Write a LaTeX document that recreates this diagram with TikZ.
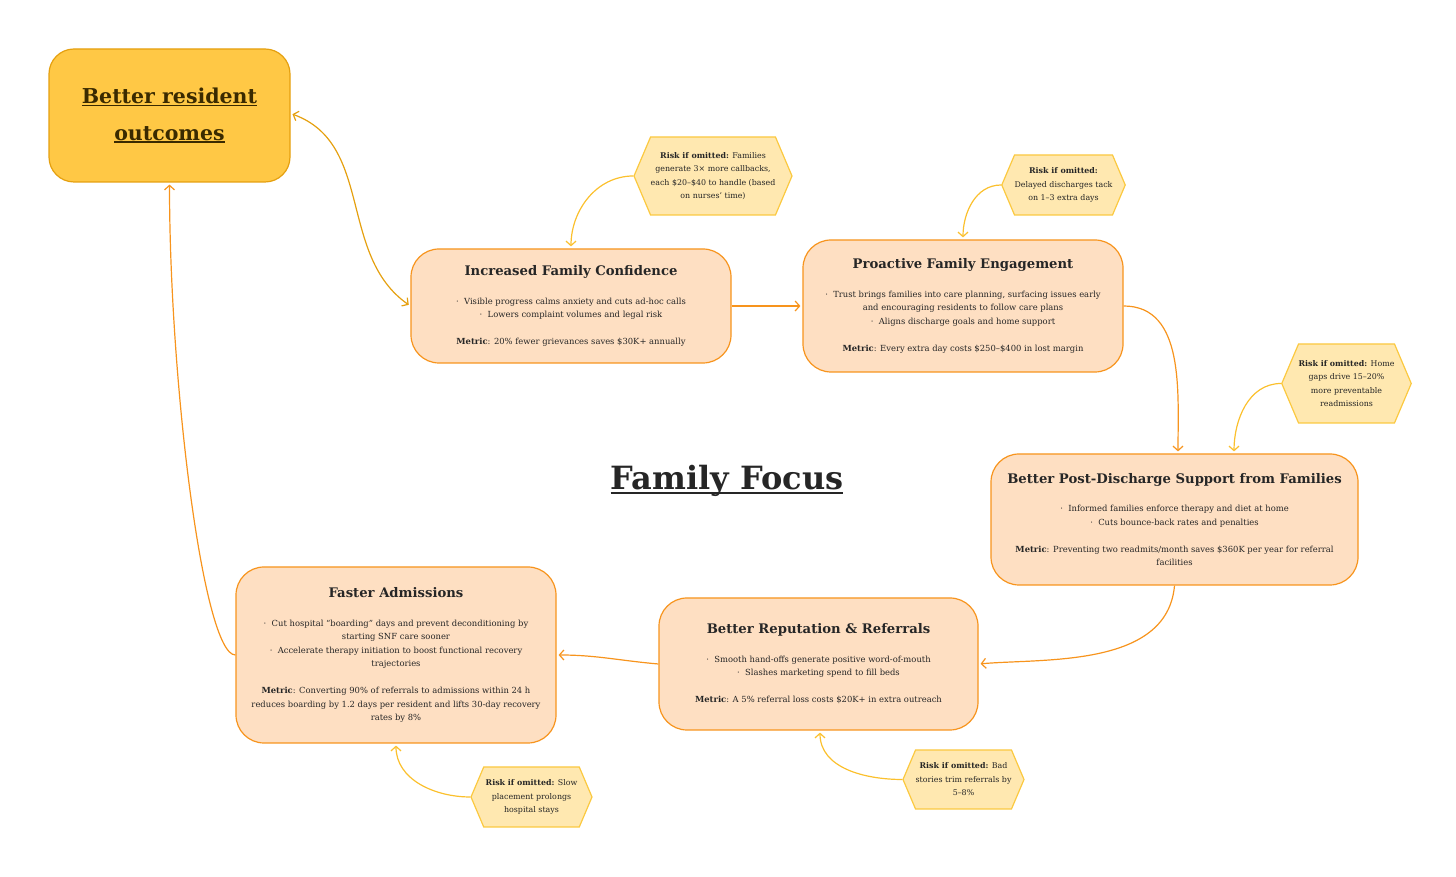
\documentclass[tikz,border=0pt]{standalone}
\usepackage{fontspec}
\setmainfont{DejaVu Serif}
\usetikzlibrary{arrows.meta, shapes.symbols}
\definecolor{FFpeach}{HTML}{FEDFC2}
\definecolor{FForange}{HTML}{F7941D}
\definecolor{FFgold}{HTML}{FFC845}
\definecolor{FFgolddark}{HTML}{E5A00F}
\definecolor{FFhex}{HTML}{FFE8B0}
\definecolor{FFhexline}{HTML}{FBC940}
\definecolor{FFrisk}{HTML}{FBC02D}
\definecolor{FFtext}{HTML}{262626}
\definecolor{FFbrown}{HTML}{3A2A00}
\newcommand{\ultext}[1]{\leavevmode\setbox0\hbox{#1}\rlap{\rule[-0.13em]{\wd0}{0.07em}}\box0}
\newcommand{\stagetitle}[1]{{\fontsize{13.2}{15}\selectfont\bfseries #1}}

\begin{document}
\begin{tikzpicture}[x=1pt, y=1pt,
   stage/.style={draw=FForange, fill=FFpeach, line width=1.2pt, rounded corners=28pt,
      align=center, text=FFtext, inner sep=0pt, font=\fontsize{8.4}{13.5}\selectfont},
   riskhex/.style={shape=signal, signal to=east and west, signal pointer angle=134,
      draw=FFhexline, fill=FFhex, line width=1.2pt, align=center, text=FFtext,
      inner sep=0pt, font=\fontsize{7.9}{13.5}\selectfont},
   flow/.style={draw=FForange, line width=1.2pt, -{Straight Barb[length=4.5pt,width=10pt]}, shorten >=2pt},
   risk/.style={draw=FFrisk, line width=1.2pt, -{Straight Barb[length=4.5pt,width=10pt]}, shorten >=2pt}]
   \useasboundingbox (0,0) rectangle (1456,877);
   % Goal box
   \node[draw=FFgolddark, fill=FFgold, line width=1.2pt, rounded corners=25pt,
      minimum width=241pt, minimum height=133pt, align=center, text=FFbrown,
      font=\fontsize{20.5}{36.5}\selectfont\bfseries] (out) at (169.5,761.5)
      {\ultext{Better resident}\\\ultext{outcomes}};
   % Title
   \node[text=FFtext, font=\fontsize{32}{38}\selectfont\bfseries] (title) at (727,396)
      {\ultext{Family Focus}};
   % Stages
   \node[stage, minimum width=320pt, minimum height=114pt] (conf) at (571,571)
      {\stagetitle{Increased Family Confidence}\\[15pt]
       ·\ \ Visible progress calms anxiety and cuts ad-hoc calls\\
       ·\ \ Lowers complaint volumes and legal risk\\[13.5pt]
       \textbf{Metric}: 20\% fewer grievances saves \$30K+ annually};
   \node[stage, minimum width=320pt, minimum height=132pt] (eng) at (963,571)
      {\stagetitle{Proactive Family Engagement}\\[15pt]
       ·\ \ Trust brings families into care planning, surfacing issues early\\
       and encouraging residents to follow care plans\\
       ·\ \ Aligns discharge goals and home support\\[13.5pt]
       \textbf{Metric}: Every extra day costs \$250–\$400 in lost margin};
   \node[stage, minimum width=367pt, minimum height=131pt] (post) at (1174.5,357.5)
      {\stagetitle{Better Post-Discharge Support from Families}\\[15pt]
       ·\ \ Informed families enforce therapy and diet at home\\
       ·\ \ Cuts bounce-back rates and penalties\\[13.5pt]
       \textbf{Metric}: Preventing two readmits/month saves \$360K per year for referral\\
       facilities};
   \node[stage, minimum width=319pt, minimum height=132pt] (rep) at (818.5,213)
      {\stagetitle{Better Reputation \& Referrals}\\[15pt]
       ·\ \ Smooth hand-offs generate positive word-of-mouth\\
       ·\ \ Slashes marketing spend to fill beds\\[13.5pt]
       \textbf{Metric}: A 5\% referral loss costs \$20K+ in extra outreach};
   \node[stage, minimum width=320pt, minimum height=176pt] (adm) at (396,222)
      {\stagetitle{Faster Admissions}\\[15pt]
       ·\ \ Cut hospital “boarding” days and prevent deconditioning by\\
       starting SNF care sooner\\
       ·\ \ Accelerate therapy initiation to boost functional recovery\\
       trajectories\\[13.5pt]
       \textbf{Metric}: Converting 90\% of referrals to admissions within 24 h\\
       reduces boarding by 1.2 days per resident and lifts 30-day recovery\\
       rates by 8\%};
   % Risk hexagons
   \node[riskhex, minimum width=158pt, minimum height=78pt] (riskconf) at (713,701)
      {\textbf{Risk if omitted:} Families\\generate 3× more callbacks,\\
       each \$20–\$40 to handle (based\\on nurses’ time)};
   \node[riskhex, minimum width=121pt, minimum height=60pt] (riskeng) at (1063.5,692)
      {\textbf{Risk if omitted:}\\Delayed discharges tack\\on 1–3 extra days};
   \node[riskhex, minimum width=121pt, minimum height=79pt] (riskpost) at (1346.5,493.5)
      {\textbf{Risk if omitted:} Home\\gaps drive 15–20\%\\more preventable\\readmissions};
   \node[riskhex, minimum width=121pt, minimum height=59pt] (riskrep) at (963.5,97.5)
      {\textbf{Risk if omitted:} Bad\\stories trim referrals by\\5–8\%};
   \node[riskhex, minimum width=121pt, minimum height=60pt] (riskadm) at (531.5,80)
      {\textbf{Risk if omitted:} Slow\\placement prolongs\\hospital stays};
   % Main loop
   \draw[draw=FFgolddark, line width=1.2pt, {Straight Barb[length=4.5pt,width=10pt]}-{Straight Barb[length=4.5pt,width=10pt]},
      shorten <=2pt, shorten >=2pt] ([yshift=2pt]out.east) to[out=-20, in=145] (conf.west);
   \draw[flow] (conf.east) -- (eng.west);
   \draw[flow] (eng.east) to[out=0, in=90] ([xshift=3.5pt]post.north);
   \draw[flow] (post.south) to[out=-95, in=5, in looseness=0.8] (rep.east);
   \draw[flow] (rep.west) to[out=175, in=0] (adm.east);
   \draw[flow] (adm.west) .. controls +(-32,0) and +(0,-200) .. (out.south);
   % Risks
   \draw[risk] (riskconf.west) to[out=180, in=90] (conf.north);
   \draw[risk] (riskeng.west) to[out=180, in=90] (eng.north);
   \draw[risk] (riskpost.west) to[out=180, in=90] ([xshift=59.5pt]post.north);
   \draw[risk] (riskrep.west) to[out=180, in=-90] ([xshift=1.5pt]rep.south);
   \draw[risk] (riskadm.west) to[out=180, in=-90] (adm.south);
\end{tikzpicture}
\end{document}
